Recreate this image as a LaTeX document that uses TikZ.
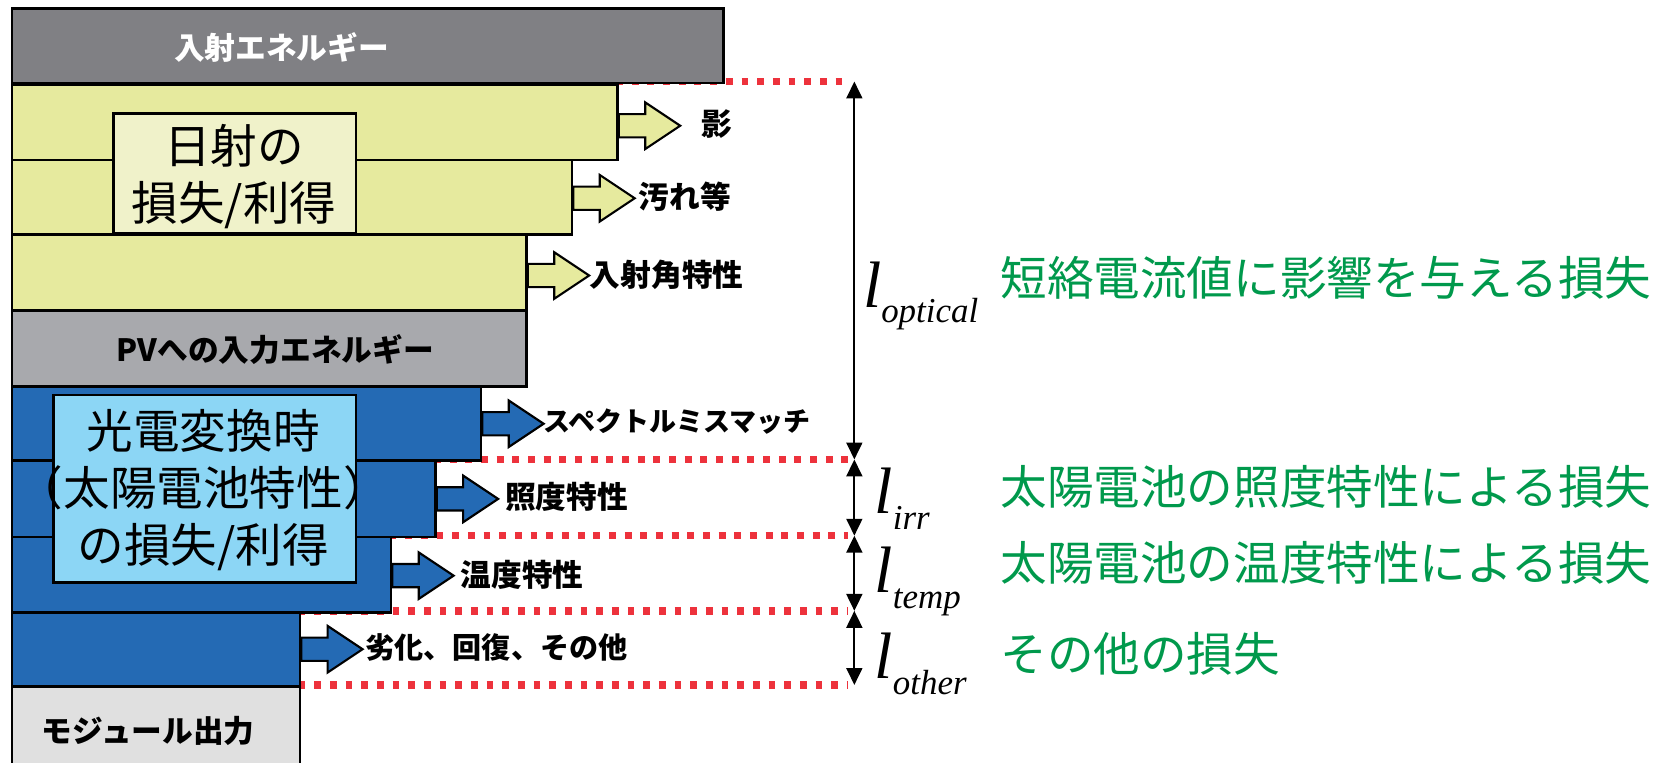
\documentclass[tikz,border=0pt]{standalone}
\usepackage{fontspec}
\setmainfont{Liberation Serif}
\newfontfamily\jp{Noto Sans CJK JP}
\usetikzlibrary{arrows.meta}
\definecolor{topgray}{RGB}{128,128,132}
\definecolor{yel}{RGB}{230,234,158}
\definecolor{yellab}{RGB}{240,242,202}
\definecolor{pvgray}{RGB}{168,169,173}
\definecolor{pvblue}{RGB}{36,106,180}
\definecolor{ltblue}{RGB}{140,214,245}
\definecolor{modgray}{RGB}{224,224,224}
\definecolor{dotred}{RGB}{237,50,60}
\definecolor{grn}{RGB}{0,153,76}
\tikzset{
  box/.style={draw=black, line width=2.5pt, inner sep=0pt, anchor=north west},
  dotline/.style={draw=dotred, line width=7pt, dash pattern=on 6.5pt off 8.3pt},
  blockarrow/.style={draw=black, line width=2pt, line join=miter},
  dimarrow/.style={draw=black, line width=2pt, {Triangle[length=16pt,width=15pt]}-{Triangle[length=16pt,width=15pt]}},
  lab/.style={font=\jp\bfseries\fontsize{29}{29}\selectfont, anchor=west, inner sep=0pt},
  ttl/.style={font=\jp\bfseries\fontsize{29}{29}\selectfont, inner sep=0pt},
  big/.style={font=\jp\fontsize{44}{54}\selectfont, align=center, inner sep=0pt},
  gtext/.style={font=\jp\fontsize{44}{44}\selectfont, text=grn, anchor=west, inner sep=0pt},
  lsym/.style={anchor=base west, inner sep=0pt}
}
\newcommand\blk[2]{\draw[blockarrow, fill=#2] (#1) ++(0,-11) -- ++(25,0) -- ++(0,-11) -- ++(33,22) -- ++(-33,22) -- ++(0,-11) -- ++(-25,0) -- cycle;}
\newcommand\lsub[1]{{\fontsize{62}{62}\selectfont\itshape l}{\fontsize{33}{33}\selectfont\itshape\raisebox{-15pt}{#1}}}
\begin{document}
\begin{tikzpicture}[x=1pt, y=-1pt]
\useasboundingbox (0,0) rectangle (1568,720);
\clip (0,0) rectangle (1568,720);
% dimension axis coordinates
\coordinate (d0) at (807,77);
\coordinate (d1) at (807,434);
\coordinate (d2) at (807,506);
\coordinate (d3) at (807,577);
\coordinate (d4) at (807,647);
\coordinate (e0) at (801,77);
\coordinate (e1) at (801,434);
\coordinate (e2) at (801,506);
\coordinate (e3) at (801,577);
\coordinate (e4) at (801,647);
\coordinate (s0) at (582,77);
% dotted lines
\draw[dotline] (s0) -- (e0);
\draw[dotline] (410,434) -- (e1);
\draw[dotline] (368,506) -- (e2);
\draw[dotline] (282,577) -- (e3);
\draw[dotline] (282,647) -- (e4);
% boxes
\node[box, fill=topgray, minimum width=672pt, minimum height=70pt] (top) at (10,7) {};
\node[box, fill=yel, minimum width=572pt, minimum height=71pt] (y1) at (10,79) {};
\node[box, fill=yel, minimum width=529pt, minimum height=70pt] (y2) at (10,150) {};
\node[box, fill=yel, minimum width=486pt, minimum height=72pt] (y3) at (10,220) {};
\node[box, fill=pvgray, minimum width=486pt, minimum height=72pt] (pv) at (10,292) {};
\node[box, fill=pvblue, minimum width=443pt, minimum height=70pt] (b1) at (10,364) {};
\node[box, fill=pvblue, minimum width=400pt, minimum height=72pt] (b2) at (10,434) {};
\node[box, fill=pvblue, minimum width=358pt, minimum height=71pt] (b3) at (10,506) {};
\node[box, fill=pvblue, minimum width=272pt, minimum height=70pt] (b4) at (10,577) {};
\node[box, fill=modgray, minimum width=272pt, minimum height=90pt] (mod) at (10,647) {};
\node[box, fill=yellab, minimum width=229pt, minimum height=113pt] (lab1) at (106,106) {};
\node[box, fill=ltblue, minimum width=286pt, minimum height=177pt] (lab2) at (49,372) {};
% box texts
\node[ttl, text=white] (t0) at (266,45) {入射エネルギー};
\node[ttl] (t1) at (260,330) {PVへの入力エネルギー};
\node[ttl] (t2) at (140,690) {モジュール出力};
\node[big] (lt1) at (221,167) {日射の\\損失/利得};
\node[big] (lt2) at (192,463) {光電変換時\\（太陽電池特性）\\の損失/利得};
% block arrows
\blk{[yshift=-3pt]y1.east}{yel}
\blk{[yshift=-1pt]y2.east}{yel}
\blk{[yshift=-3pt]y3.east}{yel}
\blk{b1.east}{pvblue}
\blk{b2.east}{pvblue}
\blk{[yshift=-1pt]b3.east}{pvblue}
\blk{b4.east}{pvblue}
% arrow labels
\node[lab] (a1) at (662,117) {影};
\node[lab] (a2) at (603,186) {汚れ等};
\node[lab] (a3) at (557,260) {入射角特性};
\node[lab, font=\jp\bfseries\fontsize{25.5}{25.5}\selectfont] (a4) at (513,398) {スペクトルミスマッチ};
\node[lab] (a5) at (477,469) {照度特性};
\node[lab] (a6) at (435,543) {温度特性};
\node[lab, font=\jp\bfseries\fontsize{27.5}{27.5}\selectfont] (a7) at (345,612) {劣化、回復、その他};
% dimension arrows
\draw[dimarrow] (d0) -- (d1);
\draw[dimarrow] (d1) -- (d2);
\draw[dimarrow] (d2) -- (d3);
\draw[dimarrow] (d3) -- (d4);
% l labels
\node[lsym] (l0) at (815,290) {\lsub{optical}};
\node[lsym] (l1) at (826,485) {\lsub{irr}};
\node[lsym] (l2) at (826,560) {\lsub{temp}};
\node[lsym] (l3) at (826,641) {\lsub{other}};
% green texts
\node[gtext] (g0) at (945,262) {短絡電流値に影響を与える損失};
\node[gtext] (g1) at (945,460) {太陽電池の照度特性による損失};
\node[gtext] (g2) at (945,532) {太陽電池の温度特性による損失};
\node[gtext] (g3) at (945,618) {その他の損失};
\end{tikzpicture}
\end{document}
